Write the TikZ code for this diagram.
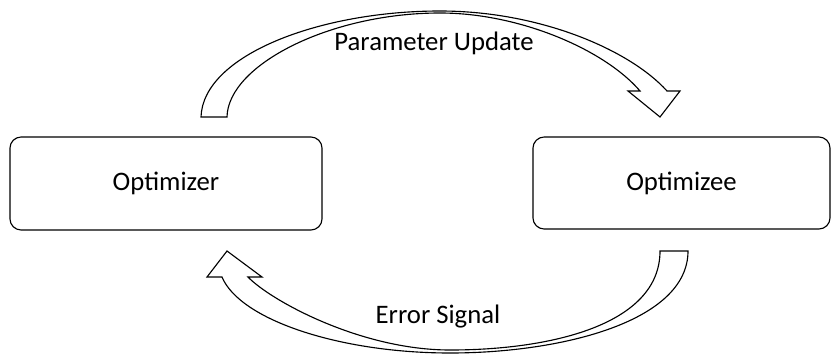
\documentclass[tikz,border=0pt]{standalone}
\usepackage{fontspec}
\setmainfont{Carlito}
\usetikzlibrary{positioning}

\begin{document}
\begin{tikzpicture}[x=0.025cm, y=-0.025cm,
    box/.style={draw, rounded corners=0.28cm, line width=0.8pt, font=\fontsize{19}{23}\selectfont},
    bigarrow/.style={draw, fill=white, line width=0.8pt, line join=miter},
    lbl/.style={font=\fontsize{19}{23}\selectfont, anchor=base}]
  \useasboundingbox (0,0) rectangle (832,354);
  \node[box, minimum width=7.8cm, minimum height=2.325cm] (optimizer) at (166,183.5) {Optimizer};
  \node[box, minimum width=7.425cm, minimum height=2.3cm] (optimizee) at (681.5,183) {Optimizee};
  % ends of the two block arrows
  \coordinate (upd-out) at (201,117);
  \coordinate (upd-in) at (227,117);
  \coordinate (upd-tip) at (660,117);
  \coordinate (err-out) at (688,251);
  \coordinate (err-in) at (660,251);
  \coordinate (err-tip) at (227,251);
  \draw[bigarrow] (upd-out) .. controls (203,55) and (320,11) .. (440,11)
    .. controls (540,11) and (630,50) .. (667,91) -- (680,91) -- (upd-tip) -- (628,91) -- (640,91)
    .. controls (605,50) and (520,13) .. (440,13) .. controls (330,13) and (228,65) .. (upd-in) -- cycle;
  \draw[bigarrow] (err-out) .. controls (688,322) and (560,353) .. (450,353)
    .. controls (340,353) and (240,320) .. (222,277) -- (207,277) -- (err-tip) -- (262,277) -- (248,277)
    .. controls (270,300) and (360,350) .. (450,350) .. controls (550,350) and (660,325) .. (err-in) -- cycle;
  \node[lbl] (update) at (434,51) {Parameter Update};
  \node[lbl] (error) at (438,323) {Error Signal};
\end{tikzpicture}
\end{document}
